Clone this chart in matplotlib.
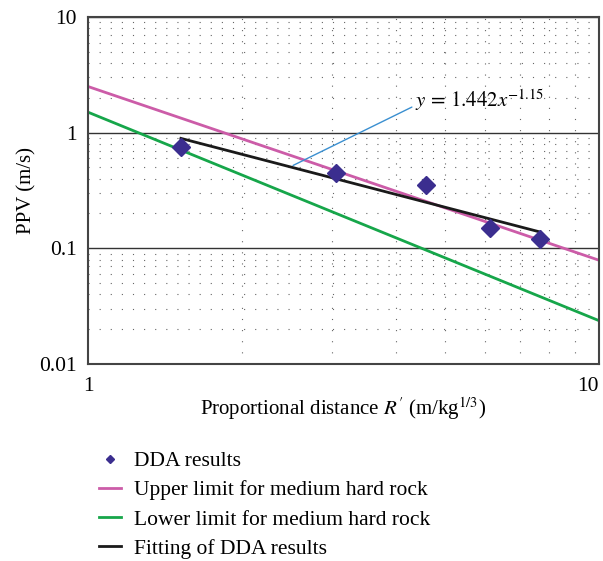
import numpy as np
import matplotlib
matplotlib.use("Agg")
import matplotlib.pyplot as plt
from matplotlib.ticker import NullFormatter

plt.rcParams['font.family'] = ['Liberation Serif', 'DejaVu Serif']
plt.rcParams['mathtext.fontset'] = 'stix'

# DDA results
dda_x = [1.52, 3.06, 4.59, 6.12, 7.67]
dda_y = [0.75, 0.45, 0.35, 0.15, 0.12]

# limits for medium hard rock: PPV = k * R'^(-a)
upper_k, upper_a = 2.5, 1.5
lower_k, lower_a = 1.5, 1.8
fit_k, fit_a = 1.442, 1.15

limit_x = [1.0, 10.0]
fit_x = [dda_x[0], dda_x[-1]]

x_ticks = [1, 10]
x_tick_labels = ['1', '10']
y_ticks = [0.01, 0.1, 1, 10]
y_tick_labels = ['0.01', '0.1', '1', '10']

fig = plt.figure(figsize=(6.03, 5.61), dpi=100)
ax = fig.add_axes([0.146, 0.351, 0.847, 0.619])

ax.set_xscale('log')
ax.set_yscale('log')
ax.set_xlim(1, 10)
ax.set_ylim(0.01, 10)

# dotted minor grid + solid major horizontals
ax.grid(which='minor', linestyle=(0, (1, 9)), linewidth=0.8, color='#666666')
ax.grid(which='major', axis='y', linestyle='-', linewidth=1.0, color='#333333')
ax.set_axisbelow(True)

ux = np.array(limit_x)
pink, = ax.plot(ux, upper_k * ux ** (-upper_a), color='#cc5ca8', lw=2,
                label='Upper limit for medium hard rock')
green, = ax.plot(ux, lower_k * ux ** (-lower_a), color='#16a64a', lw=2,
                 label='Lower limit for medium hard rock')
fx = np.array(fit_x)
black, = ax.plot(fx, fit_k * fx ** (-fit_a), color='#1a1a1a', lw=2,
                 label='Fitting of DDA results')
pts, = ax.plot(dda_x, dda_y, 'D', color='#3b2e8f', ms=9, ls='none',
               label='DDA results', zorder=5)

ax.annotate(r'$y\,=\,1.442x^{-1.15}$', xy=(2.52, 0.52), xytext=(4.36, 1.89),
            ha='left', va='center', fontsize=15,
            arrowprops=dict(arrowstyle='-', color='#3a8fd0', lw=1,
                            shrinkA=0, shrinkB=0, relpos=(0, 0.3)))

ax.set_xticks(x_ticks)
ax.set_xticklabels(x_tick_labels)
ax.set_yticks(y_ticks)
ax.set_yticklabels(y_tick_labels)
ax.xaxis.set_minor_formatter(NullFormatter())
ax.yaxis.set_minor_formatter(NullFormatter())
ax.tick_params(which='both', length=0, labelsize=15.5)
ax.tick_params(axis='x', pad=9)
ax.tick_params(axis='y', pad=8)
ax.get_xticklabels()[-1].set_horizontalalignment('right')

for s in ax.spines.values():
    s.set_color('#444444')
    s.set_linewidth(1.5)

ax.set_xlabel(r"Proportional distance $R'$ (m/kg$^{1/3}$)", fontsize=15, labelpad=0)
ax.set_ylabel('PPV (m/s)', fontsize=15, labelpad=2)

fig.legend(handles=[pts, pink, green, black], loc='upper left',
           bbox_to_anchor=(0.15, 0.211), frameon=False, fontsize=15.5,
           handlelength=1.0, handletextpad=0.6, labelspacing=0.42,
           markerscale=0.4, borderaxespad=0)

fig.savefig('out.png', dpi=100)
